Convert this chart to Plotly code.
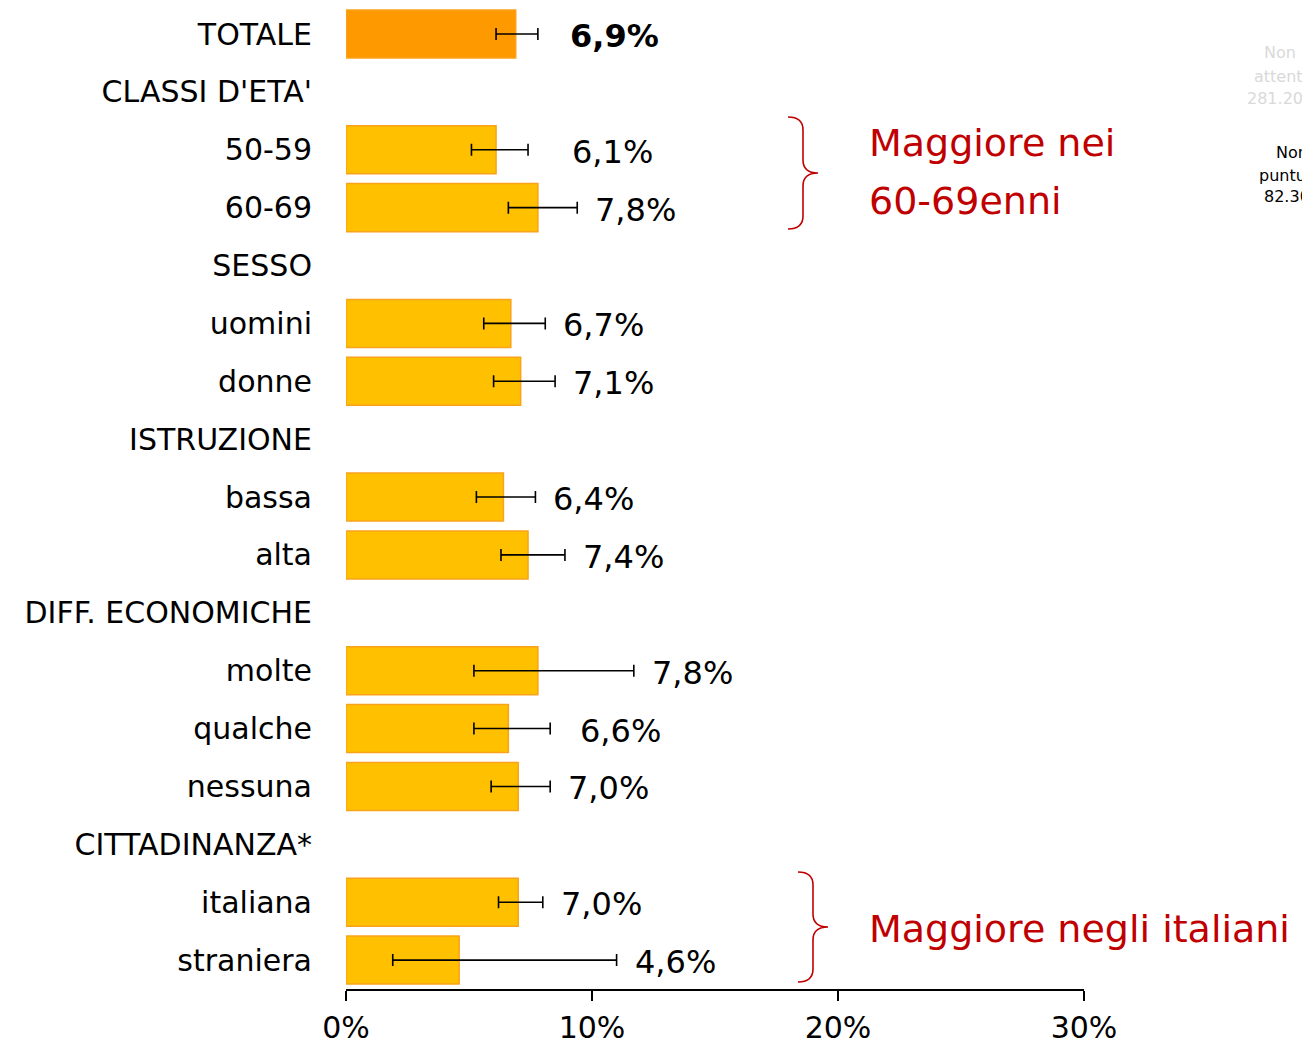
import plotly.graph_objects as go

categories = ["TOTALE", "CLASSI D'ETA'", "50-59", "60-69", "SESSO", "uomini", "donne",
              "ISTRUZIONE", "bassa", "alta", "DIFF. ECONOMICHE", "molte", "qualche",
              "nessuna", "CITTADINANZA*", "italiana", "straniera"]
values = [6.9, None, 6.1, 7.8, None, 6.7, 7.1, None, 6.4, 7.4, None, 7.8, 6.6, 7.0, None, 7.0, 4.6]
ci_low = [6.1, None, 5.1, 6.6, None, 5.6, 6.0, None, 5.3, 6.3, None, 5.2, 5.2, 5.9, None, 6.2, 1.9]
ci_high = [7.8, None, 7.4, 9.4, None, 8.1, 8.5, None, 7.7, 8.9, None, 11.7, 8.3, 8.3, None, 8.0, 11.0]
x_ticks = [0, 10, 20, 30]
x_ticklabels = ["0%", "10%", "20%", "30%"]

FONT = "DejaVu Sans"
OFF = 8  # page offset of the figure (body margin)
W, H = 1310 - OFF, 1047 - OFF
ML = 346 - OFF
MR = W - (1084 - OFF)
MT = 0
PLOT_BOTTOM = 989 - OFF
MB = H - PLOT_BOTTOM

n = len(categories)
row_px = 57.88
first_row = 34 - OFF
top_val = -first_row / row_px  # data value at figure top edge
bottom_val = (PLOT_BOTTOM - first_row) / row_px

rows = list(range(n))
data_idx = [i for i, v in enumerate(values) if v is not None]

bar_y = [i for i in data_idx]
bar_x = [values[i] for i in data_idx]
err_plus = [ci_high[i] - values[i] for i in data_idx]
err_minus = [values[i] - ci_low[i] for i in data_idx]
colors = ["#FF9900" if categories[i] == "TOTALE" else "#FFC000" for i in data_idx]

fig = go.Figure()
fig.add_trace(go.Bar(
    x=bar_x, y=bar_y, orientation="h", width=0.83,
    marker=dict(color=colors, line=dict(color="#F9A21B", width=1.5)),
    error_x=dict(type="data", symmetric=False, array=err_plus, arrayminus=err_minus,
                 color="black", thickness=1.6, width=6),
    hoverinfo="skip", showlegend=False,
))

# value labels
extra_shift = {"TOTALE": 14, "50-59": 26, "qualche": 12}
annotations = []
for i in data_idx:
    name = categories[i]
    txt = f"{values[i]:.1f}".replace(".", ",") + "%"
    if name == "TOTALE":
        txt = f"<b>{txt}</b>"
    annotations.append(dict(
        x=ci_high[i], y=i, xref="x", yref="y", text=txt, showarrow=False,
        xanchor="left", yanchor="middle", xshift=16 + extra_shift.get(name, 0), yshift=-2,
        font=dict(family=FONT, size=32, color="black"),
    ))

pw = W - ML - MR
ph = H - MT - MB
def px(xp):  # reference page pixel -> paper
    return (xp - OFF - ML) / pw
def py(yp):
    return 1 - (yp - OFF - MT) / ph

red = "#C00000"
for txt, yy in [("Maggiore nei", 143), ("60-69enni", 201), ("Maggiore negli italiani", 929)]:
    annotations.append(dict(x=px(867), y=py(yy), xref="paper", yref="paper",
                            text=txt, showarrow=False, align="left",
                            xanchor="left", yanchor="middle",
                            font=dict(family=FONT, size=38, color=red)))
# cropped slide remnants at right edge
for txt, yy in [("Non", 53), ("attenti", 76), ("281.200", 98)]:
    annotations.append(dict(x=px(1280), y=py(yy), xref="paper", yref="paper",
                            text=txt, showarrow=False, xanchor="center", yanchor="middle",
                            font=dict(family=FONT, size=16, color="#D9D9D9")))
for txt, yy in [("Non", 152), ("puntuali", 175), ("82.300", 197)]:
    annotations.append(dict(x=px(1292), y=py(yy), xref="paper", yref="paper",
                            text=txt, showarrow=False, xanchor="center", yanchor="middle",
                            font=dict(family=FONT, size=16, color="black")))

def brace(x0, y0, y1, w):
    ym = (y0 + y1) / 2
    xm = x0 + w / 2
    xt = x0 + w
    r = 13
    pts = [
        f"M {px(x0)},{py(y0)}",
        f"Q {px(xm)},{py(y0)} {px(xm)},{py(y0 + r)}",
        f"L {px(xm)},{py(ym - r)}",
        f"Q {px(xm)},{py(ym)} {px(xt)},{py(ym)}",
        f"Q {px(xm)},{py(ym)} {px(xm)},{py(ym + r)}",
        f"L {px(xm)},{py(y1 - r)}",
        f"Q {px(xm)},{py(y1)} {px(x0)},{py(y1)}",
    ]
    return dict(type="path", path=" ".join(pts), xref="paper", yref="paper",
                line=dict(color=red, width=1.6))

shapes = [
    brace(788, 117, 229, 30),
    brace(798, 872, 982, 30),
    dict(type="line", xref="paper", yref="paper", x0=px(1309), x1=px(1309),
         y0=py(250), y1=py(286), line=dict(color="#F4B183", width=2)),
]

fig.update_layout(
    width=W, height=H,
    margin=dict(l=ML, r=MR, t=MT, b=MB, autoexpand=False),
    plot_bgcolor="white", paper_bgcolor="white",
    font=dict(family=FONT, color="black"),
    annotations=annotations, shapes=shapes,
    xaxis=dict(range=[0, 30], tickvals=x_ticks, ticktext=x_ticklabels,
               showgrid=False, zeroline=False, showline=True, linecolor="black",
               linewidth=1.5, ticks="outside", ticklen=10, tickwidth=1.5,
               tickcolor="black", tickfont=dict(family=FONT, size=30),
               automargin=False, ticklabelstandoff=1),
    yaxis=dict(range=[bottom_val, top_val], tickvals=rows, ticktext=categories,
               showgrid=False, zeroline=False, showline=False, ticks="",
               tickfont=dict(family=FONT, size=30), automargin=False,
               ticklabelstandoff=33),
)

fig.write_html("out.html")
